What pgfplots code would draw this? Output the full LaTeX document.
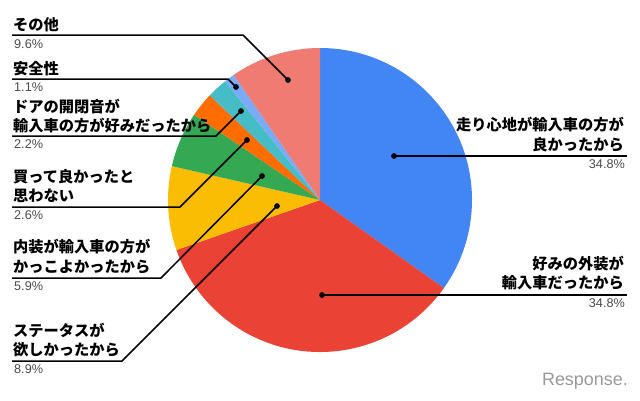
\documentclass[border=0pt]{standalone}
\usepackage{pgfplots}
\pgfplotsset{compat=1.18}
\usepackage{fontspec}
\setmainfont{Liberation Sans}
\newfontfamily\cjk{Noto Sans CJK JP}
\definecolor{pBlue}{HTML}{4285F4}
\definecolor{pRed}{HTML}{EA4335}
\definecolor{pYellow}{HTML}{FBBC04}
\definecolor{pGreen}{HTML}{34A853}
\definecolor{pOrange}{HTML}{FF6D01}
\definecolor{pTeal}{HTML}{46BDC6}
\definecolor{pLight}{HTML}{7BAAF7}
\definecolor{pSalmon}{HTML}{F07B72}
\definecolor{pctgray}{HTML}{4A4A4A}
\begin{document}
\begin{tikzpicture}[
  lab/.style={inner sep=0pt, font=\cjk\bfseries\fontsize{15.3}{18}\selectfont, text=black},
  pct/.style={inner sep=0pt, font=\fontsize{12.7}{14}\selectfont, text=pctgray}]
\begin{axis}[x=1bp, y=1bp, xmin=0, xmax=640, ymin=0, ymax=400, y dir=reverse,
  hide axis, clip=false, scale only axis]
\path (axis cs:0,0) rectangle (axis cs:640,400);
% pie slices (values in %, total 99.9), clockwise from 12 o'clock
\fill[pBlue]   (axis cs:320,200) -- ++({90}:152bp) arc[start angle={90}, delta angle={-34.8/99.9*360}, radius=152bp] -- cycle;
\fill[pRed]    (axis cs:320,200) -- ++({90-34.8/99.9*360}:152bp) arc[start angle={90-34.8/99.9*360}, delta angle={-34.8/99.9*360}, radius=152bp] -- cycle;
\fill[pYellow] (axis cs:320,200) -- ++({90-69.6/99.9*360}:152bp) arc[start angle={90-69.6/99.9*360}, delta angle={-8.9/99.9*360}, radius=152bp] -- cycle;
\fill[pGreen]  (axis cs:320,200) -- ++({90-78.5/99.9*360}:152bp) arc[start angle={90-78.5/99.9*360}, delta angle={-5.9/99.9*360}, radius=152bp] -- cycle;
\fill[pOrange] (axis cs:320,200) -- ++({90-84.4/99.9*360}:152bp) arc[start angle={90-84.4/99.9*360}, delta angle={-2.6/99.9*360}, radius=152bp] -- cycle;
\fill[pTeal]   (axis cs:320,200) -- ++({90-87.0/99.9*360}:152bp) arc[start angle={90-87.0/99.9*360}, delta angle={-2.2/99.9*360}, radius=152bp] -- cycle;
\fill[pLight]  (axis cs:320,200) -- ++({90-89.2/99.9*360}:152bp) arc[start angle={90-89.2/99.9*360}, delta angle={-1.1/99.9*360}, radius=152bp] -- cycle;
\fill[pSalmon] (axis cs:320,200) -- ++({90-90.3/99.9*360}:152bp) arc[start angle={90-90.3/99.9*360}, delta angle={-9.6/99.9*360}, radius=152bp] -- cycle;
% leader lines
\addplot[black, line width=1.5bp, mark=none] coordinates {(12,35) (243,35) (288,80)};
\addplot[black, line width=1.5bp, mark=none] coordinates {(12,79) (228,79) (236,87)};
\addplot[black, line width=1.5bp, mark=none] coordinates {(12,136) (216,136) (241,111)};
\addplot[black, line width=1.5bp, mark=none] coordinates {(12,207) (180,207) (247,140)};
\addplot[black, line width=1.5bp, mark=none] coordinates {(12,278) (161,278) (262,176)};
\addplot[black, line width=1.5bp, mark=none] coordinates {(12,361) (122,361) (277,206)};
\addplot[black, line width=1.5bp, mark=none] coordinates {(394,156) (627,156)};
\addplot[black, line width=1.5bp, mark=none] coordinates {(322,295) (627,295)};
\addplot[only marks, mark=*, mark size=2.6bp, black] coordinates {(288,80) (236,87) (241,111) (247,140) (262,176) (277,206) (394,156) (322,295)};
% labels left
\node[lab, anchor=base west] at (axis cs:13,30) {その他};
\node[pct, anchor=base west] at (axis cs:14,48) {9.6\%};
\node[lab, anchor=base west] at (axis cs:13,74) {安全性};
\node[pct, anchor=base west] at (axis cs:14,91.5) {1.1\%};
\node[lab, anchor=base west] at (axis cs:13,112) {ドアの開閉音が};
\node[lab, anchor=base west] at (axis cs:13,131.5) {輸入車の方が好みだったから};
\node[pct, anchor=base west] at (axis cs:14,148.5) {2.2\%};
\node[lab, anchor=base west] at (axis cs:13,182) {買って良かったと};
\node[lab, anchor=base west] at (axis cs:13,201.5) {思わない};
\node[pct, anchor=base west] at (axis cs:14,219.5) {2.6\%};
\node[lab, anchor=base west] at (axis cs:13,252.5) {内装が輸入車の方が};
\node[lab, anchor=base west] at (axis cs:13,272.5) {かっこよかったから};
\node[pct, anchor=base west] at (axis cs:14,290.5) {5.9\%};
\node[lab, anchor=base west] at (axis cs:13,336) {ステータスが};
\node[lab, anchor=base west] at (axis cs:13,355.5) {欲しかったから};
\node[pct, anchor=base west] at (axis cs:14,373.5) {8.9\%};
% labels right
\node[lab, anchor=base east] at (axis cs:624,130.5) {走り心地が輸入車の方が};
\node[lab, anchor=base east] at (axis cs:624,150) {良かったから};
\node[pct, anchor=base east] at (axis cs:625,168.5) {34.8\%};
\node[lab, anchor=base east] at (axis cs:624,269) {好みの外装が};
\node[lab, anchor=base east] at (axis cs:624,288.5) {輸入車だったから};
\node[pct, anchor=base east] at (axis cs:625,307.5) {34.8\%};
% watermark
\node[inner sep=0pt, anchor=base east, font=\fontsize{18}{20}\selectfont, text=black!40] at (axis cs:628,385) {Response.};
\end{axis}
\end{tikzpicture}
\end{document}
